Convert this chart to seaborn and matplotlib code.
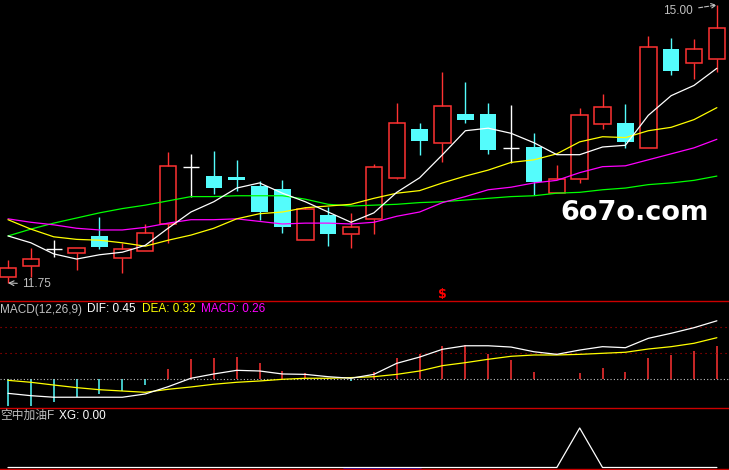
import numpy as np
import pandas as pd
import seaborn as sns
import matplotlib.pyplot as plt

# K-line data
opens = [11.82, 11.95, 12.15, 12.10, 12.30, 12.04, 12.12, 12.44, 13.11, 13.00, 12.99, 12.88, 12.85, 12.25, 12.54, 12.32,
         12.50, 12.98, 13.55, 13.39, 13.73, 13.73, 13.33, 13.34, 12.80, 12.97, 13.61, 13.62, 13.33, 14.49, 14.32, 14.37]
highs = [12.02, 12.16, 12.25, 12.16, 12.52, 12.22, 12.44, 13.28, 13.26, 13.29, 13.19, 12.94, 12.95, 12.64, 12.64, 12.57,
         13.14, 13.85, 13.62, 14.22, 14.10, 13.85, 13.83, 13.50, 13.13, 13.80, 13.96, 13.84, 14.64, 14.61, 14.60, 15.00]
lows = [11.75, 11.82, 12.05, 11.90, 12.15, 11.87, 12.12, 12.22, 12.76, 12.79, 12.83, 12.49, 12.33, 12.25, 12.18, 12.16,
        12.32, 12.97, 13.25, 13.16, 13.62, 13.26, 13.15, 12.78, 12.80, 12.92, 13.55, 13.33, 13.33, 14.18, 14.13, 14.22]
closes = [11.93, 12.03, 12.15, 12.16, 12.17, 12.15, 12.33, 13.12, 13.11, 12.86, 12.95, 12.58, 12.40, 12.62, 12.32, 12.40,
          13.11, 13.62, 13.41, 13.82, 13.66, 13.30, 13.33, 12.93, 12.97, 13.71, 13.81, 13.40, 14.51, 14.23, 14.49, 14.73]

# moving averages
ma5 = [12.30, 12.22, 12.09, 12.03, 12.08, 12.11, 12.19, 12.39, 12.58, 12.70, 12.86, 12.92, 12.80, 12.70, 12.58, 12.46,
       12.57, 12.81, 12.98, 13.25, 13.53, 13.56, 13.50, 13.39, 13.25, 13.25, 13.34, 13.36, 13.71, 13.94, 14.06, 14.26]
ma10 = [12.49, 12.38, 12.29, 12.26, 12.25, 12.22, 12.18, 12.25, 12.31, 12.39, 12.50, 12.56, 12.58, 12.63, 12.65, 12.67,
        12.74, 12.80, 12.83, 12.92, 13.00, 13.07, 13.16, 13.19, 13.26, 13.40, 13.46, 13.45, 13.53, 13.57, 13.66, 13.80]
ma20 = [12.50, 12.46, 12.43, 12.39, 12.37, 12.37, 12.40, 12.45, 12.49, 12.49, 12.50, 12.47, 12.44, 12.45, 12.45, 12.44,
        12.46, 12.53, 12.58, 12.69, 12.76, 12.84, 12.87, 12.92, 12.95, 13.04, 13.11, 13.12, 13.19, 13.26, 13.33, 13.43]
ma60 = [12.30, 12.38, 12.45, 12.51, 12.57, 12.62, 12.66, 12.71, 12.76, 12.76, 12.77, 12.77, 12.77, 12.73, 12.67, 12.65,
        12.66, 12.67, 12.69, 12.70, 12.72, 12.74, 12.76, 12.77, 12.80, 12.81, 12.84, 12.86, 12.90, 12.92, 12.95, 13.00]

# MACD(12,26,9)
dif = [-0.108, -0.126, -0.138, -0.138, -0.138, -0.138, -0.113, -0.057, 0.008, 0.041, 0.069, 0.064, 0.041, 0.038, 0.020, 0.008,
       0.038, 0.123, 0.171, 0.231, 0.258, 0.258, 0.248, 0.212, 0.192, 0.225, 0.251, 0.243, 0.315, 0.354, 0.397, 0.45]
dea = [-0.008, -0.023, -0.044, -0.064, -0.080, -0.090, -0.100, -0.077, -0.059, -0.038, -0.023, -0.013, 0.0, 0.008, 0.008, 0.013,
       0.020, 0.038, 0.064, 0.105, 0.128, 0.154, 0.177, 0.187, 0.187, 0.192, 0.200, 0.208, 0.233, 0.251, 0.277, 0.32]
macd = [-0.203, -0.203, -0.172, -0.138, -0.113, -0.090, -0.044, 0.079, 0.156, 0.166, 0.171, 0.125, 0.064, 0.048, 0.010, -0.010,
        0.054, 0.166, 0.192, 0.256, 0.264, 0.197, 0.148, 0.054, 0.005, 0.046, 0.087, 0.054, 0.164, 0.187, 0.218, 0.26]

# 空中加油F signal
xg = [0, 0, 0, 0, 0, 0, 0, 0, 0, 0, 0, 0, 0, 0, 0, 0,
      0, 0, 0, 0, 0, 0, 0, 0, 0, 1, 0, 0, 0, 0, 0, 0]

df = pd.DataFrame({'open': opens, 'high': highs, 'low': lows, 'close': closes,
                   'ma5': ma5, 'ma10': ma10, 'ma20': ma20, 'ma60': ma60,
                   'dif': dif, 'dea': dea, 'macd': macd, 'xg': xg})
df['i'] = np.arange(len(df))

RED = '#ff3232'
CYAN = '#54fcfc'
GRAY = '#c0c0c0'

sns.set_style('dark')
plt.rcParams['font.family'] = ['Liberation Sans', 'Noto Sans CJK SC', 'DejaVu Sans']

fig = plt.figure(figsize=(7.29, 4.70), dpi=100, facecolor='black')
ax = fig.add_axes([0, 1 - 301 / 470, 1, 301 / 470])
ax_m = fig.add_axes([0, 1 - 408 / 470, 1, 107 / 470])
ax_x = fig.add_axes([0, 1 - 469 / 470, 1, 61 / 470])

for a in (ax, ax_m, ax_x):
    a.set_facecolor('black')
    a.set_xlim(-0.35, 31.53)
    a.set_xticks([])
    a.set_yticks([])
    a.grid(False)
    for s in a.spines.values():
        s.set_visible(False)

# ---- main K-line panel
up = df[df['close'] > df['open']]
down = df[df['close'] < df['open']]
doji = df[df['close'] == df['open']]
w = 0.72

ax.vlines(up['i'], up['low'], up['open'], color=RED, lw=1)
ax.vlines(up['i'], up['close'], up['high'], color=RED, lw=1)
ax.bar(up['i'], up['close'] - up['open'], bottom=up['open'], width=w,
       facecolor='none', edgecolor=RED, linewidth=1.1, zorder=3)
ax.vlines(down['i'], down['low'], down['high'], color=CYAN, lw=1)
ax.bar(down['i'], down['open'] - down['close'], bottom=down['close'], width=w,
       color=CYAN, linewidth=0, zorder=3)
ax.vlines(doji['i'], doji['low'], doji['high'], color='white', lw=1)
ax.hlines(doji['close'], doji['i'] - w / 2, doji['i'] + w / 2, color='white', lw=1)

for col, c in [('ma60', '#00ff00'), ('ma20', '#ff00ff'), ('ma10', '#ffff00'), ('ma5', 'white')]:
    sns.lineplot(data=df, x='i', y=col, ax=ax, color=c, lw=0.9, zorder=5)

ax.set_ylim(15.0585 - 0.011691 * 301, 15.0585)
ax.set_xlabel('')
ax.set_ylabel('')

ax.annotate('15.00', xy=(31, 15.00), xytext=(28.64, 14.93), color=GRAY, fontsize=8.5,
            ha='left', va='center',
            arrowprops=dict(arrowstyle='->', linestyle='--', color=GRAY, lw=0.8, shrinkA=2, shrinkB=0))
ax.annotate('11.75', xy=(0, 11.75), xytext=(0.61, 11.738), color=GRAY, fontsize=8.5,
            ha='left', va='center',
            arrowprops=dict(arrowstyle='->', color=GRAY, lw=0.8, shrinkA=1, shrinkB=0))
ax.text(19, 11.61, '$', color='#ff0000', fontsize=9, fontweight='bold', ha='center', va='center',
        family='DejaVu Sans')

# ---- MACD panel
bar_col = [RED if v >= 0 else CYAN for v in df['macd']]
ax_m.vlines(df['i'], 0, df['macd'], colors=bar_col, lw=1.1)
ax_m.axhline(0, color=GRAY, lw=0.8, ls=(0, (1, 2)))
for lv in (0.2, 0.4):
    ax_m.axhline(lv, color='#c00000', lw=0.8, ls=(0, (1, 3.5)))
sns.lineplot(data=df, x='i', y='dea', ax=ax_m, color='#ffff00', lw=0.9, zorder=5)
sns.lineplot(data=df, x='i', y='dif', ax=ax_m, color='white', lw=0.9, zorder=6)
ax_m.set_ylim(-(408 - 379.3) / 130, (379.3 - 301) / 130)
ax_m.set_xlabel('')
ax_m.set_ylabel('')
ax_m.spines['top'].set_visible(True)
ax_m.spines['top'].set_color('#cc0000')
ax_m.spines['top'].set_linewidth(1)

# ---- XG panel
sns.lineplot(data=df, x='i', y='xg', ax=ax_x, color='white', lw=0.9)
ax_x.set_ylim(-0.038, 1.506)
ax_x.set_xlabel('')
ax_x.set_ylabel('')
for s in ('top', 'bottom'):
    ax_x.spines[s].set_visible(True)
    ax_x.spines[s].set_color('#cc0000')
    ax_x.spines[s].set_linewidth(1)
ax_x.plot([(344 - 8) / 22.87, (421 - 8) / 22.87], [-0.03, -0.03], color='#2020c0', lw=1.2,
          transform=ax_x.transData, clip_on=False)

# ---- header texts
ty = 1 - 309.5 / 470
fig.text(0 / 729, ty, 'MACD(12,26,9)', color=GRAY, fontsize=8.5, va='center')
fig.text(87 / 729, ty, 'DIF: 0.45', color='white', fontsize=8.5, va='center')
fig.text(142 / 729, ty, 'DEA: 0.32', color='#ffff00', fontsize=8.5, va='center')
fig.text(201 / 729, ty, 'MACD: 0.26', color='#ff00ff', fontsize=8.5, va='center')

ty2 = 1 - 415.7 / 470
fig.text(0, ty2, '空中加油F', color=GRAY, fontsize=8.5, va='center')
fig.text(59 / 729, ty2, 'XG: 0.00', color='white', fontsize=8.5, va='center')

# watermark
fig.text(560 / 729, 1 - 213 / 470, '6o7o.com', color='white', fontsize=19.5, fontweight='bold',
         family='DejaVu Sans', va='center', ha='left')

fig.savefig('out.png', dpi=100, facecolor='black')
